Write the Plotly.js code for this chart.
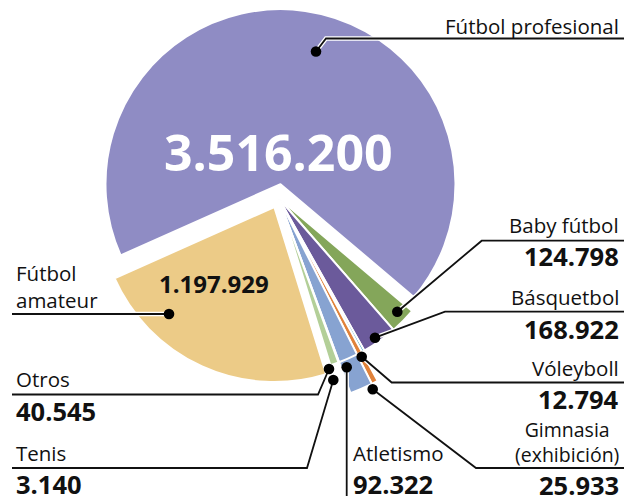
<!DOCTYPE html>
<html><head><meta charset="utf-8">
<script src="https://cdn.plot.ly/plotly-3.0.1.min.js"></script>
<style>
html,body{margin:0;padding:0;overflow:hidden;background:#fff;width:624px;height:496px;position:relative}
#chart{position:absolute;left:0;top:-40px;width:624px;height:536px}
</style>
</head><body><div id="chart"></div>
<script>
// ---- data ----
const categories = ["Fútbol profesional","Baby fútbol","Básquetbol","Vóleyboll","Gimnasia (exhibición)","Atletismo","Tenis","Otros","Fútbol amateur"];
const values = [3516200, 124798, 168922, 12794, 25933, 92322, 3140, 40545, 1197929];
const labelText = ["Fútbol profesional","Baby fútbol","Básquetbol","Vóleyboll","Gimnasia<br>(exhibición)","Atletismo","Tenis","Otros","Fútbol<br>amateur"];

// ---- style ----
const colors = ["#8F8CC4","#84A65A","#6B5A9B","#2E9FBF","#E0823A","#87A3D1","#E9A3AE","#B3CF98","#ECCB87"];
const extended = [false,false,false,false,true,true,false,false,false];
const W = 624, H = 536, OFF = 40;
const px = x => x / W;
const py = y => 1 - (y + OFF) / H;
const fmt = v => String(v).replace(/\B(?=(\d{3})+(?!\d))/g, ".");

const CX = 278.5, CY = 198, R = 175, RB = 208;
const pullArr = [0.08,0,0,0,0,0,0,0,0.057];
const maxPull = Math.max(...pullArr);
const hA = R * (1 + maxPull);
const cyB = H - (CY + OFF);
const domA = {x:[(CX - hA)/W, (CX + hA)/W], y:[(cyB - hA)/H, (cyB + hA)/H]};
const domB = {x:[(CX - RB)/W, (CX + RB)/W], y:[(cyB - RB)/H, (cyB + RB)/H]};
const ROT = 246;

const traceB = {
  type:'pie', values: values, labels: categories, sort:false, direction:'clockwise', rotation: ROT,
  marker:{colors: colors.map((c,i)=> extended[i] ? c : 'rgba(0,0,0,0)'),
          line:{color: colors.map((c,i)=> extended[i] ? '#ffffff' : 'rgba(0,0,0,0)'), width:2}},
  textinfo:'none', hoverinfo:'skip', showlegend:false, domain: domB
};
const traceA = {
  type:'pie', values: values, labels: categories, sort:false, direction:'clockwise', rotation: ROT,
  pull: pullArr,
  marker:{colors: colors, line:{color:'#ffffff', width:2}},
  textinfo:'none', hoverinfo:'skip', showlegend:false, domain: domA
};

// ---- leader lines (page pixel coordinates) ----
const leaders = [
  [[316,51.5],[326,38.5],[624,38.5]],
  [[397.3,311.7],[481.7,240.7],[624,240.7]],
  [[375,337.7],[445,311.7],[624,311.7]],
  [[361.7,356.7],[391.7,382.5],[624,382.5]],
  [[372.7,389.3],[476,468],[624,468]],
  [[346.7,367.3],[346.7,500]],
  [[333.3,380],[307,468],[12,468]],
  [[329,369],[318,394.5],[12,394.5]],
  [[169,314],[12,314]]
];
const shapes = [];
const toPath = pts => pts.map((p,i)=> (i? 'L':'M') + px(p[0]) + ',' + py(p[1])).join(' ');
leaders.forEach(pts => shapes.push({type:'path', xref:'paper', yref:'paper', path:toPath(pts), line:{color:'#ffffff', width:4.5}}));
leaders.forEach(pts => shapes.push({type:'path', xref:'paper', yref:'paper', path:toPath(pts), line:{color:'#111111', width:1.8}}));
leaders.forEach(pts => {
  const [x,y] = pts[0], r = 5.3;
  shapes.push({type:'circle', xref:'paper', yref:'paper', x0:px(x-r), x1:px(x+r), y0:py(y+r), y1:py(y-r),
    fillcolor:'#000000', line:{color:'#000000', width:0}});
});

// ---- labels ----
const FONT = "Open Sans";
const ann = [];
function txt(t, x, y, anchor, size, bold, color, align){
  ann.push({xref:'paper', yref:'paper', x:px(x), y:py(y), xanchor:anchor, yanchor:'middle',
    text: bold ? '<b>'+t+'</b>' : t, showarrow:false, align: align || anchor,
    font:{family:FONT, size:size, color:color||'#111111'}});
}
// [x, anchor, label y, value y, align, label size]
const place = [
  [621,'right',25.8,null,'right',20.5],
  [621,'right',224.5,256,'right',20.5],
  [621,'right',297,328.5,'right',20.5],
  [621,'right',368,398.5,'right',20.5],
  [621,'right',442,485,'center',19.5],
  [351,'left',452.5,484,'left',20.5],
  [14,'left',452.5,484,'left',20.5],
  [14,'left',379,410.5,'left',20.5],
  [14,'left',286.5,null,'left',20.5]
];
for(let i=0;i<categories.length;i++){
  const p = place[i];
  txt(labelText[i], p[0], p[2], p[1], p[5], false, null, p[4]);
  if(p[3]!==null) txt(fmt(values[i]), p[0], p[3], p[1], 25.5, true);
}
// values inside the big slices
txt(fmt(values[0]), 278.5, 152.5, 'center', 50, true, '#ffffff');
txt(fmt(values[8]), 213.8, 283, 'center', 24, true, '#111111');

const layout = {
  width: W, height: H, margin:{l:0,r:0,t:0,b:0},
  paper_bgcolor:'#ffffff', plot_bgcolor:'#ffffff', showlegend:false,
  shapes: shapes, annotations: ann
};
Plotly.newPlot('chart', [traceB, traceA], layout, {staticPlot:true, displayModeBar:false});
</script>
</body></html>
